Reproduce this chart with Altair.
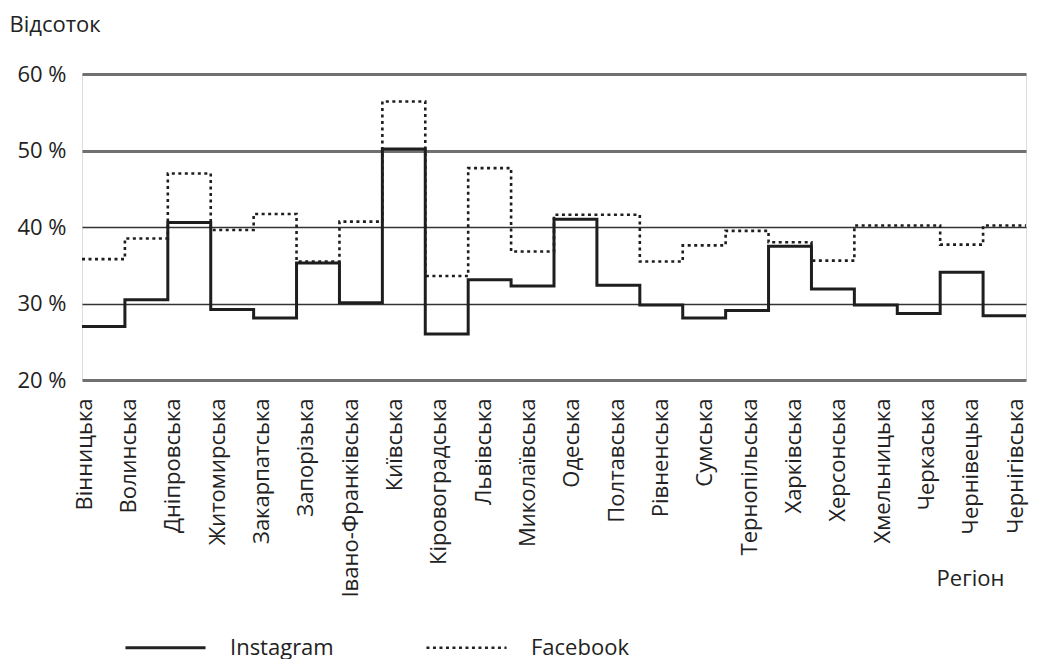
import altair as alt
import pandas as pd

regions = ["Вінницька", "Волинська", "Дніпровська", "Житомирська", "Закарпатська",
           "Запорізька", "Івано-Франківська", "Київська", "Кіровоградська", "Львівська",
           "Миколаївська", "Одеська", "Полтавська", "Рівненська", "Сумська",
           "Тернопільська", "Харківська", "Херсонська", "Хмельницька", "Черкаська",
           "Чернівецька", "Чернігівська"]
instagram = [27.0, 30.5, 40.6, 29.2, 28.1, 35.3, 30.1, 50.2, 26.0, 33.1, 32.3,
             41.0, 32.4, 29.8, 28.1, 29.1, 37.5, 31.9, 29.8, 28.7, 34.1, 28.4]
facebook = [35.8, 38.5, 47.0, 39.6, 41.7, 35.5, 40.7, 56.4, 33.6, 47.7, 36.8,
            41.6, 41.6, 35.5, 37.6, 39.5, 38.0, 35.6, 40.2, 40.2, 37.7, 40.2]
series_names = ["Instagram", "Facebook"]
y_ticks = [20, 30, 40, 50, 60]

rows = []
for name, vals in zip(series_names, [instagram, facebook]):
    for i, v in enumerate(vals):
        rows.append({"idx": i, "value": v, "series": name})
    rows.append({"idx": len(vals), "value": vals[-1], "series": name})
df = pd.DataFrame(rows)

n = len(regions)
label_pos = [0.05 + i * 21.7 / 21 for i in range(n)]
names_js = "[" + ",".join("'" + r + "'" for r in regions) + "]"

FONT = "Open Sans, sans-serif"

chart = alt.Chart(df).mark_line(interpolate="step-after", color="#1e1e1e").encode(
    x=alt.X("idx:Q",
            scale=alt.Scale(domain=[0, n], nice=False, zero=False),
            axis=alt.Axis(values=label_pos,
                          labelExpr=names_js + "[round((datum.value - 0.05) * 21 / 21.7)]",
                          labelAngle=-90, grid=False, domain=False, ticks=False,
                          labelPadding=18, labelFontSize=22, labelColor="#222",
                          labelLimit=0, labelOverlap=False,
                          title="Регіон", titleFontSize=22, titleFontWeight="normal",
                          titleColor="#222", titleAlign="center", titleBaseline="middle",
                          titleX=888, titleY=198)),
    y=alt.Y("value:Q",
            scale=alt.Scale(domain=[20, 60], nice=False, zero=False),
            axis=alt.Axis(values=y_ticks, labelExpr="datum.value + ' %'",
                          domain=False, ticks=False, labelPadding=16,
                          labelFontSize=22, labelColor="#222",
                          gridColor=alt.condition("datum.value == 30 || datum.value == 40",
                                                  alt.value("#333333"), alt.value("#707070")),
                          gridWidth=alt.condition("datum.value == 30 || datum.value == 40",
                                                  alt.value(1.6), alt.value(3)),
                          gridOpacity=1,
                          title="Відсоток", titleAngle=0, titleFontSize=22,
                          titleFontWeight="normal", titleColor="#222",
                          titleAlign="left", titleBaseline="middle",
                          titleX=-73, titleY=-50)),
    strokeDash=alt.StrokeDash("series:N",
                              scale=alt.Scale(domain=series_names, range=[[1, 0], [3, 3.5]]),
                              legend=alt.Legend(title=None, orient="none", direction="horizontal",
                                                legendX=71, legendY=561,
                                                symbolType="M-3.64,0H3.64",
                                                symbolSize=484, symbolStrokeWidth=3,
                                                symbolStrokeColor="#222",
                                                symbolFillColor="transparent",
                                                labelFontSize=22, labelColor="#222",
                                                labelOffset=52, columnPadding=87,
                                                padding=0)),
    strokeWidth=alt.StrokeWidth("series:N",
                                scale=alt.Scale(domain=series_names, range=[3, 2.6]),
                                legend=None),
).properties(width=944, height=306,
             padding={"top": 5, "left": 1, "right": 0, "bottom": 0}
).configure_view(stroke=None).configure(font=FONT)

chart.save("out.html", embed_options={"renderer": "svg", "actions": False})
